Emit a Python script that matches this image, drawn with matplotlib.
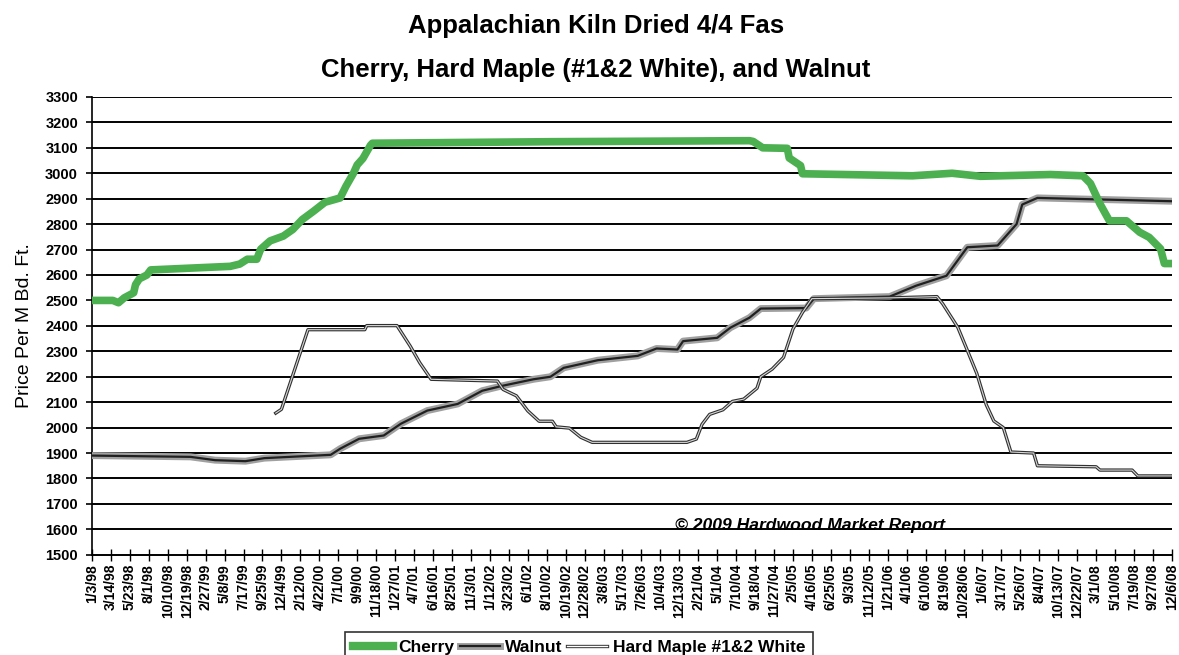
import matplotlib.pyplot as plt
import matplotlib.patheffects as pe
from matplotlib.lines import Line2D
import numpy as np

plt.rcParams['font.family'] = ['Liberation Sans', 'DejaVu Sans']

# tick labels, one every 10 weeks starting 1/3/98
date_labels = ['1/3/98', '3/14/98', '5/23/98', '8/1/98', '10/10/98', '12/19/98', '2/27/99',
               '5/8/99', '7/17/99', '9/25/99', '12/4/99', '2/12/00', '4/22/00', '7/1/00',
               '9/9/00', '11/18/00', '1/27/01', '4/7/01', '6/16/01', '8/25/01', '11/3/01',
               '1/12/02', '3/23/02', '6/1/02', '8/10/02', '10/19/02', '12/28/02', '3/8/03',
               '5/17/03', '7/26/03', '10/4/03', '12/13/03', '2/21/04', '5/1/04', '7/10/04',
               '9/18/04', '11/27/04', '2/5/05', '4/16/05', '6/25/05', '9/3/05', '11/12/05',
               '1/21/06', '4/1/06', '6/10/06', '8/19/06', '10/28/06', '1/6/07', '3/17/07',
               '5/26/07', '8/4/07', '10/13/07', '12/22/07', '3/1/08', '5/10/08', '7/19/08',
               '9/27/08', '12/6/08']

# week number since 1/3/98 and price ($ per M Bd. Ft.)
cherry_wk = [0, 11, 14, 17, 22, 23, 25, 29, 31, 73, 78, 82, 87, 89, 94, 101, 106, 111, 117,
             123, 131, 134, 138, 140, 143, 147, 148, 242, 347, 349, 354, 367, 368, 374, 375,
             433, 454, 469, 506, 523, 527, 532, 537, 546, 553, 558, 564, 566, 570]
cherry = [2500, 2500, 2491, 2510, 2530, 2562, 2585, 2600, 2620, 2634, 2643, 2662, 2662, 2701,
          2734, 2753, 2779, 2818, 2851, 2886, 2903, 2948, 3000, 3033, 3058, 3110, 3118, 3124,
          3128, 3125, 3100, 3098, 3060, 3030, 2998, 2990, 3000, 2988, 2995, 2990, 2960, 2880,
          2813, 2813, 2768, 2748, 2703, 2645, 2645]

walnut_wk = [0, 52, 65, 81, 91, 126, 131, 141, 154, 163, 177, 193, 206, 217, 233, 242, 249,
             267, 288, 298, 309, 312, 330, 337, 347, 353, 377, 381, 421, 435, 451, 462, 478,
             488, 491, 499, 570]
walnut = [1890, 1885, 1872, 1868, 1880, 1893, 1917, 1956, 1969, 2015, 2067, 2093, 2145, 2165,
          2190, 2200, 2235, 2265, 2282, 2311, 2307, 2340, 2353, 2393, 2432, 2468, 2470, 2507,
          2515, 2558, 2597, 2709, 2716, 2800, 2877, 2903, 2890]

maple_wk = [97, 100, 114, 144, 145, 161, 168, 173, 179, 214, 217, 224, 230, 236, 243, 245,
            252, 258, 264, 314, 319, 322, 326, 333, 338, 344, 351, 353, 359, 365, 370, 375,
            380, 421, 446, 449, 457, 462, 467, 472, 476, 481, 485, 497, 499, 530, 532, 549,
            552, 570]
maple = [2057, 2072, 2385, 2385, 2401, 2401, 2320, 2255, 2190, 2183, 2150, 2125, 2066, 2025,
         2025, 2003, 1998, 1962, 1942, 1942, 1955, 2013, 2052, 2070, 2103, 2112, 2155, 2200,
         2230, 2276, 2388, 2453, 2507, 2510, 2515, 2487, 2394, 2304, 2213, 2090, 2026, 2000,
         1904, 1900, 1850, 1846, 1833, 1833, 1810, 1810]

green = '#4caf50'
walnut_fx = [pe.Stroke(linewidth=5, foreground='#a0a0a0'), pe.Normal()]
maple_fx = [pe.Stroke(linewidth=2.4, foreground='#303030'), pe.Normal()]

fig = plt.figure(figsize=(11.79, 6.55), dpi=100)
ax = fig.add_axes([0.078, 0.153, 0.916, 0.699])

ax.set_xlim(0, 570)
ax.set_ylim(1500, 3300)
yt = np.arange(1500, 3301, 100)
ax.set_yticks(yt)
ax.set_yticklabels([str(v) for v in yt], fontsize=10.5, fontweight='bold')
for v in yt[1:]:
    ax.axhline(v, color='black', lw=1.4, zorder=1)

xt = np.arange(0, 571, 10)
ax.set_xticks(xt)
ax.set_xticklabels(date_labels, rotation=90, fontsize=10, fontweight='bold')
ax.tick_params(axis='x', direction='inout', length=9, width=1, pad=2)
ax.tick_params(axis='y', direction='out', length=4, width=1.2, pad=6)

for s in ['top', 'right']:
    ax.spines[s].set_visible(False)
ax.spines['left'].set_linewidth(1.2)
ax.spines['bottom'].set_linewidth(1.4)

# walnut: fuzzy grey band with dark core
ax.plot(walnut_wk, walnut, color='#202020', lw=1.6, zorder=3, path_effects=walnut_fx)
# hard maple: thin double line
ax.plot(maple_wk, maple, color='#d8d8d8', lw=0.8, zorder=4, path_effects=maple_fx)
# cherry
ax.plot(cherry_wk, cherry, color=green, lw=5.5, zorder=5, solid_capstyle='round')

ax.set_ylabel('Price Per M Bd. Ft.', fontsize=14)
ax.yaxis.set_label_coords(-0.055, 0.5)

ax.text(0.54, 0.065, '\u00a9 2009 Hardwood Market Report', transform=ax.transAxes,
        fontsize=12.6, fontstyle='italic', fontweight='bold', va='center', ha='left')

fig.text(0.5055, 0.961, 'Appalachian Kiln Dried 4/4 Fas', ha='center', va='center',
         fontsize=18.5, fontweight='bold')
fig.text(0.5055, 0.893, 'Cherry, Hard Maple (#1&2 White), and Walnut', ha='center',
         va='center', fontsize=18.5, fontweight='bold')

h_cherry = Line2D([], [], color=green, lw=6)
h_walnut = Line2D([], [], color='#202020', lw=1.6, path_effects=walnut_fx)
h_maple = Line2D([], [], color='white', lw=1, path_effects=maple_fx)
leg = fig.legend([h_cherry, h_walnut, h_maple], ['Cherry', 'Walnut', 'Hard Maple #1&2 White'],
                 loc='upper left', bbox_to_anchor=(0.293, 0.0352), borderaxespad=0, ncol=3,
                 prop={'size': 12.5, 'weight': 'bold'}, handlelength=2.3, handletextpad=0.3,
                 columnspacing=0.3, frameon=True, fancybox=False, edgecolor='black',
                 borderpad=0.45)
leg.get_frame().set_linewidth(1.2)

fig.savefig('out.png', dpi=100)
